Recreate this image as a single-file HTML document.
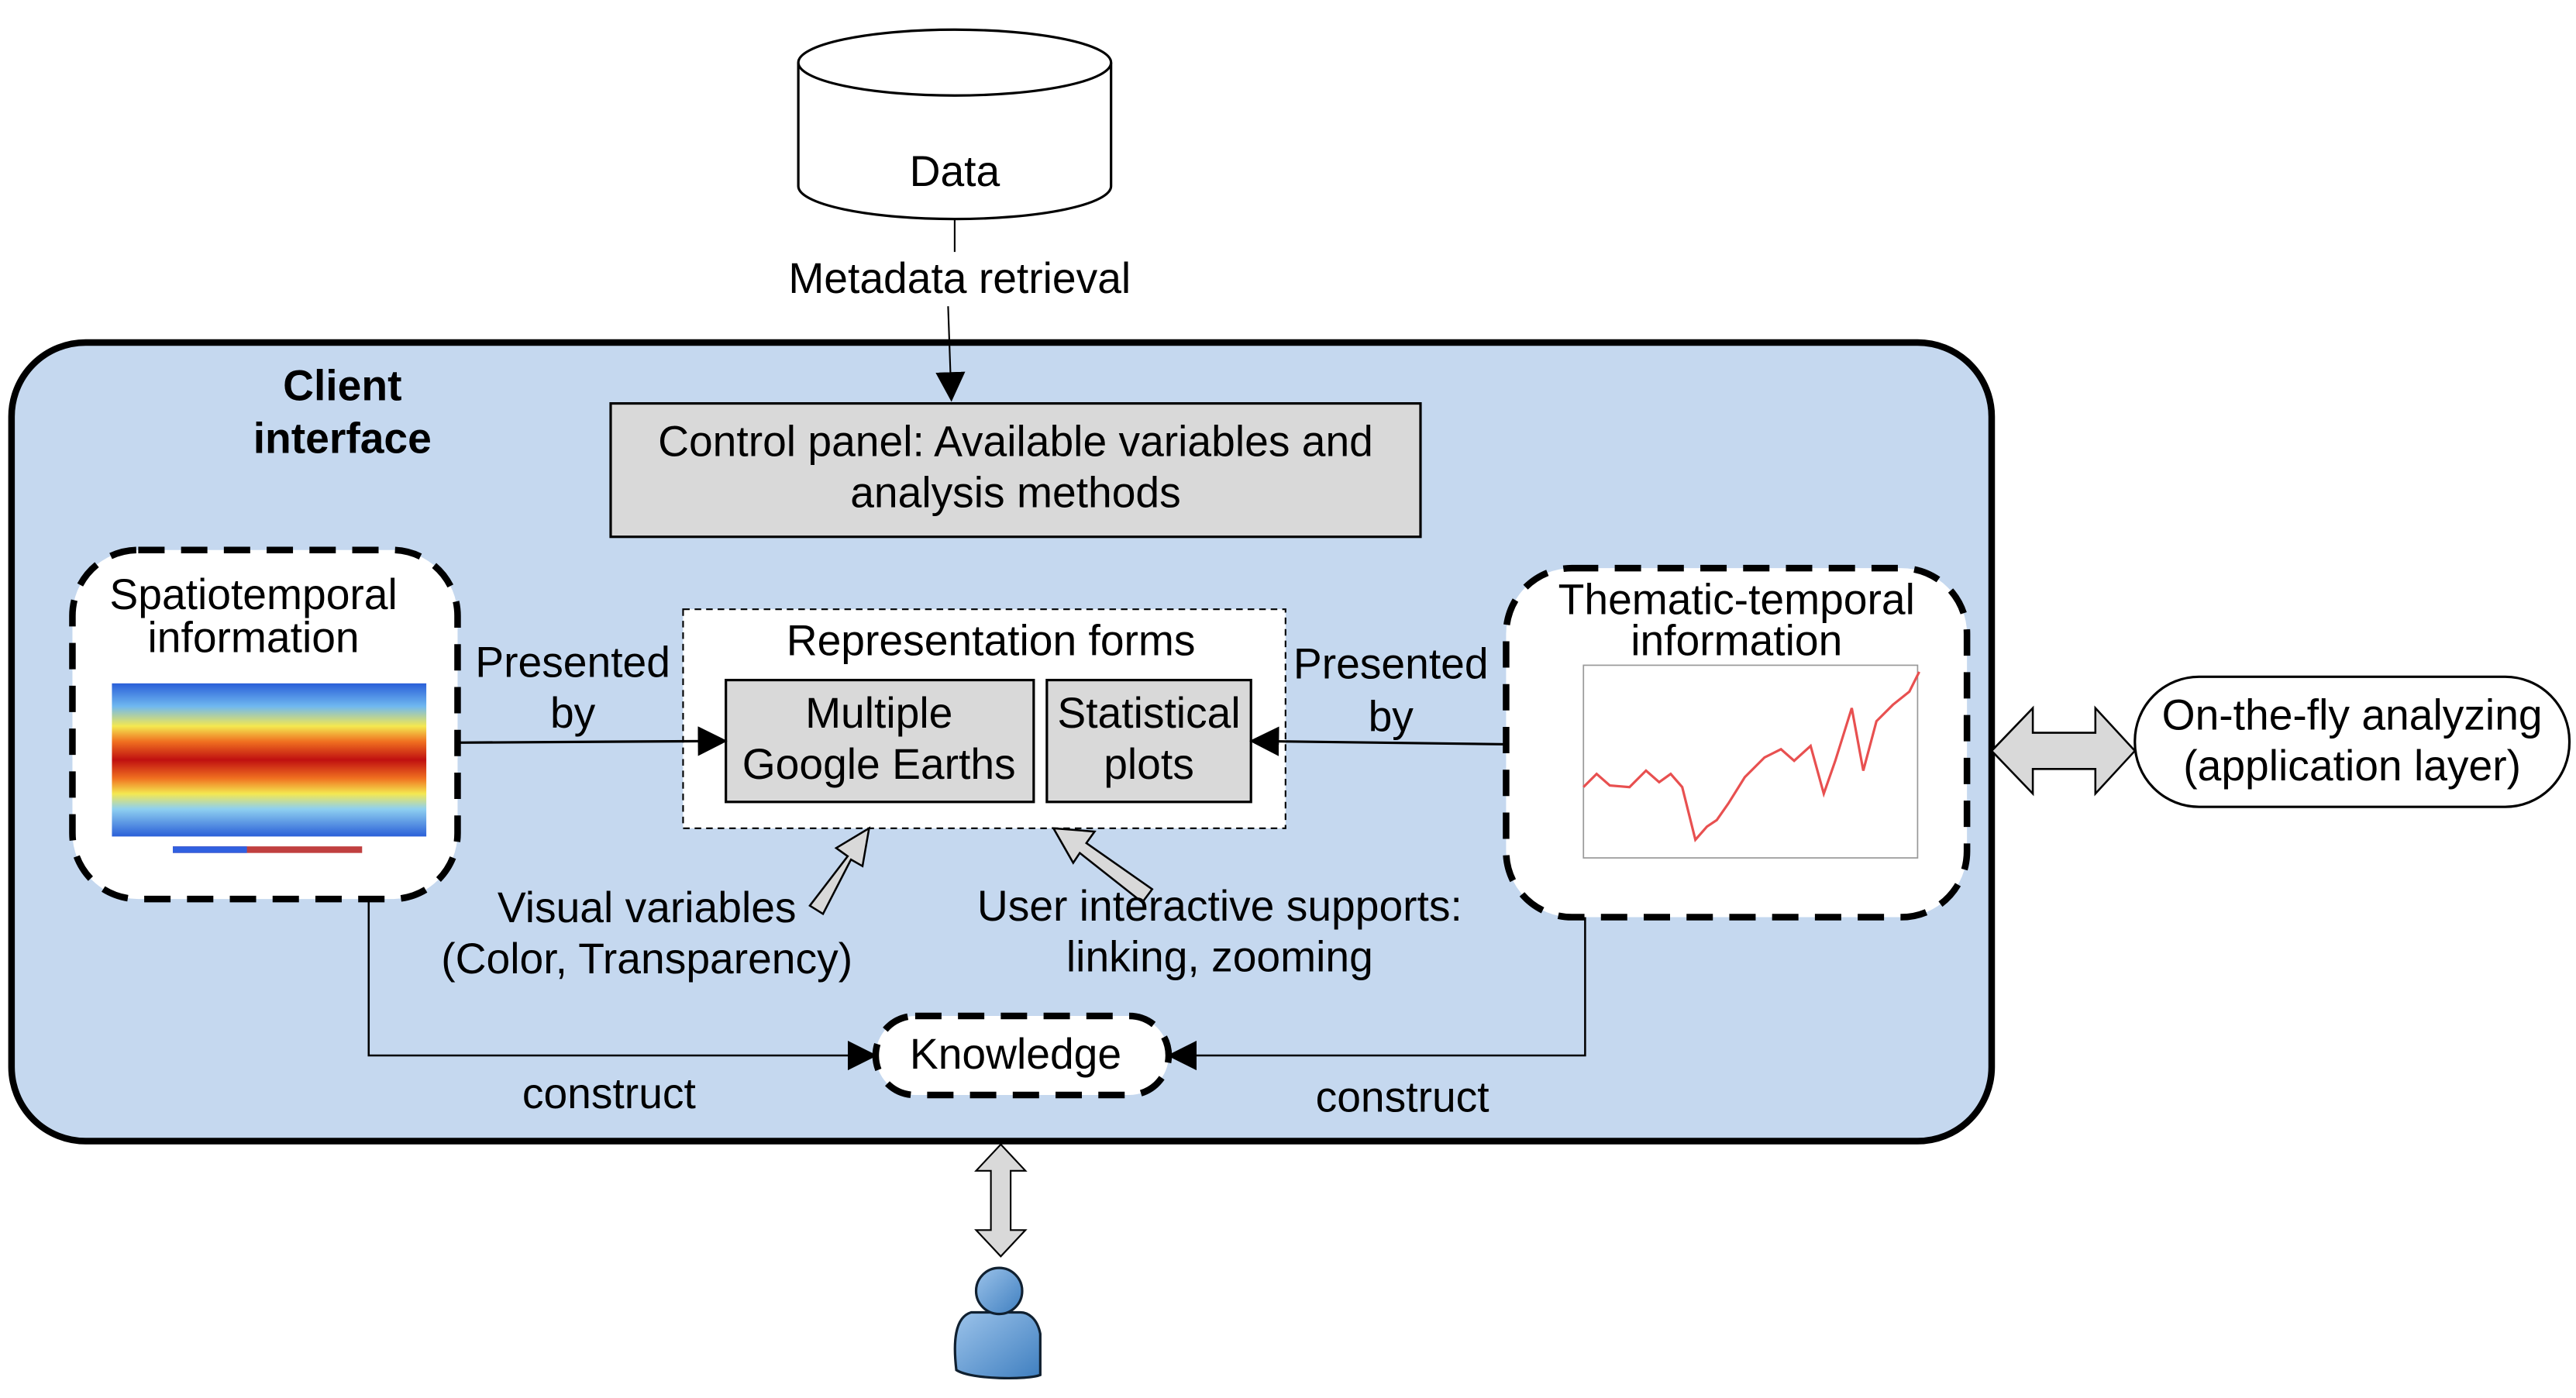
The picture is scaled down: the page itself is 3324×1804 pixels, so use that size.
<!DOCTYPE html>
<html><head><meta charset="utf-8"><style>
html,body{margin:0;padding:0;background:#fff}
svg{display:block}
text{font-family:"Liberation Sans",Arial,sans-serif;font-size:26px;fill:#000}
</style></head><body>
<svg width="3324" height="1804" viewBox="0 0 1565 849" preserveAspectRatio="none" xmlns="http://www.w3.org/2000/svg">
<defs>
<marker id="ahb" markerWidth="18" markerHeight="18" refX="17" refY="9" orient="auto" markerUnits="userSpaceOnUse"><path d="M0,0 L18,9 L0,18 Z" fill="#000"/></marker>
<linearGradient id="ug" x1="0" y1="0" x2="1" y2="1"><stop offset="0" stop-color="#9cc3ea"/><stop offset="1" stop-color="#3f7fc0"/></linearGradient>
<linearGradient id="mapg" x1="0" y1="0" x2="0" y2="1">
<stop offset="0" stop-color="#2a5fd8"/><stop offset="0.15" stop-color="#6fb8f0"/><stop offset="0.28" stop-color="#f4e850"/><stop offset="0.38" stop-color="#f07020"/><stop offset="0.5" stop-color="#c01010"/><stop offset="0.62" stop-color="#f07020"/><stop offset="0.72" stop-color="#f4e850"/><stop offset="0.82" stop-color="#8fd0f0"/><stop offset="1" stop-color="#2a5fd8"/></linearGradient>
</defs>

<!-- Main client box -->
<rect x="7" y="208" width="1203" height="485" rx="45" fill="#c5d8ef" stroke="#000" stroke-width="4"/>

<!-- Data cylinder -->
<path d="M485,38 L485,113 A95,20 0 0 0 675,113 L675,38" fill="#fff" stroke="#000" stroke-width="1.5"/>
<ellipse cx="580" cy="38" rx="95" ry="20" fill="#fff" stroke="#000" stroke-width="1.5"/>
<text x="580" y="113" text-anchor="middle">Data</text>
<line x1="580" y1="133" x2="580" y2="153" stroke="#000" stroke-width="1"/>
<text x="583" y="178" text-anchor="middle">Metadata retrieval</text>
<line x1="576" y1="186" x2="578" y2="243" stroke="#000" stroke-width="1" marker-end="url(#ahb)"/>

<text x="208" y="243" text-anchor="middle" font-weight="bold">Client</text>
<text x="208" y="275" text-anchor="middle" font-weight="bold">interface</text>

<!-- Control panel -->
<rect x="371" y="245" width="492" height="81" fill="#d9d9d9" stroke="#000" stroke-width="1.5"/>
<text x="617" y="277" text-anchor="middle">Control panel: Available variables and</text>
<text x="617" y="308" text-anchor="middle">analysis methods</text>

<!-- Spatiotemporal -->
<rect x="44" y="334" width="234" height="212" rx="40" fill="#fff" stroke="#000" stroke-width="4" stroke-dasharray="16,10"/>
<text x="154" y="370" text-anchor="middle">Spatiotemporal</text>
<text x="154" y="396" text-anchor="middle">information</text>
<rect x="68" y="415" width="191" height="93" fill="url(#mapg)"/>
<rect x="105" y="514" width="115" height="4" fill="#c04040"/>
<rect x="105" y="514" width="45" height="4" fill="#3060e0"/>

<!-- Representation forms -->
<rect x="415" y="370" width="366" height="133" fill="#fff" stroke="#000" stroke-width="1" stroke-dasharray="4,3"/>
<text x="602" y="398" text-anchor="middle">Representation forms</text>
<rect x="441" y="413" width="187" height="74" fill="#d9d9d9" stroke="#000" stroke-width="1.5"/>
<text x="534" y="442" text-anchor="middle">Multiple</text>
<text x="534" y="473" text-anchor="middle">Google Earths</text>
<rect x="636" y="413" width="124" height="74" fill="#d9d9d9" stroke="#000" stroke-width="1.5"/>
<text x="698" y="442" text-anchor="middle">Statistical</text>
<text x="698" y="473" text-anchor="middle">plots</text>

<!-- Presented by left -->
<text x="348" y="411" text-anchor="middle">Presented</text>
<text x="348" y="442" text-anchor="middle">by</text>
<line x1="278" y1="451" x2="441" y2="450" stroke="#000" stroke-width="1.5" marker-end="url(#ahb)"/>

<!-- Thematic -->
<rect x="915" y="345" width="280" height="212" rx="40" fill="#fff" stroke="#000" stroke-width="4" stroke-dasharray="16,10"/>
<text x="1055" y="373" text-anchor="middle">Thematic-temporal</text>
<text x="1055" y="398" text-anchor="middle">information</text>
<rect x="962" y="404" width="203" height="117" fill="#fff" stroke="#999" stroke-width="0.8"/>
<polyline points="962,478 970,470 978,477 990,478 1000,468 1008,475 1015,470 1022,478 1030,510 1037,502 1043,498 1050,488 1060,472 1072,460 1082,455 1090,462 1100,453 1108,482 1115,462 1125,430 1132,468 1140,438 1150,428 1160,420 1166,408" fill="none" stroke="#e85050" stroke-width="1.5"/>

<text x="845" y="412" text-anchor="middle">Presented</text>
<text x="845" y="444" text-anchor="middle">by</text>
<line x1="915" y1="452" x2="760" y2="450" stroke="#000" stroke-width="1.5" marker-end="url(#ahb)"/>

<!-- Double horizontal arrow -->
<path d="M1210,456 L1235,430 L1235,445 L1273,445 L1273,430 L1297,456 L1273,482 L1273,467 L1235,467 L1235,482 Z" fill="#d9d9d9" stroke="#000" stroke-width="1.2"/>
<rect x="1297" y="411" width="264" height="79" rx="39" fill="#fff" stroke="#000" stroke-width="1.5"/>
<text x="1429" y="443" text-anchor="middle">On-the-fly analyzing</text>
<text x="1429" y="474" text-anchor="middle">(application layer)</text>

<!-- hollow arrows -->
<path d="M492,550 L515,520 L508,515 L528,503 L524,526 L517,522 L500,555 Z" fill="#d9d9d9" stroke="#000" stroke-width="1.2"/>
<path d="M700,540 L660,512 L665,505 L640,503 L652,524 L656,518 L694,548 Z" fill="#d9d9d9" stroke="#000" stroke-width="1.2"/>
<text x="393" y="560" text-anchor="middle">Visual variables</text>
<text x="393" y="591" text-anchor="middle">(Color, Transparency)</text>
<text x="741" y="559" text-anchor="middle">User interactive supports:</text>
<text x="741" y="590" text-anchor="middle">linking, zooming</text>

<!-- construct lines -->
<polyline points="224,546 224,641 532,641" fill="none" stroke="#000" stroke-width="1.2" marker-end="url(#ahb)"/>
<polyline points="963,557 963,641 710,641" fill="none" stroke="#000" stroke-width="1.2" marker-end="url(#ahb)"/>
<text x="370" y="673" text-anchor="middle">construct</text>
<text x="852" y="675" text-anchor="middle">construct</text>

<!-- Knowledge -->
<rect x="532" y="617" width="178" height="48" rx="24" fill="#fff" stroke="#000" stroke-width="4" stroke-dasharray="16,10"/>
<text x="617" y="649" text-anchor="middle">Knowledge</text>

<!-- vertical double arrow -->
<path d="M608,695 L623,711 L614,711 L614,747 L623,747 L608,763 L593,747 L602,747 L602,711 L593,711 Z" fill="#d9d9d9" stroke="#000" stroke-width="1"/>

<!-- user icon -->
<path d="M590,797 C580,800 579,815 581,832 C590,838 625,838 632,835 L632,810 C630,800 624,797 620,797 Z" fill="url(#ug)" stroke="#102030" stroke-width="1.5"/>
<circle cx="607" cy="784" r="14" fill="url(#ug)" stroke="#102030" stroke-width="1.5"/>
</svg>
</body></html>
